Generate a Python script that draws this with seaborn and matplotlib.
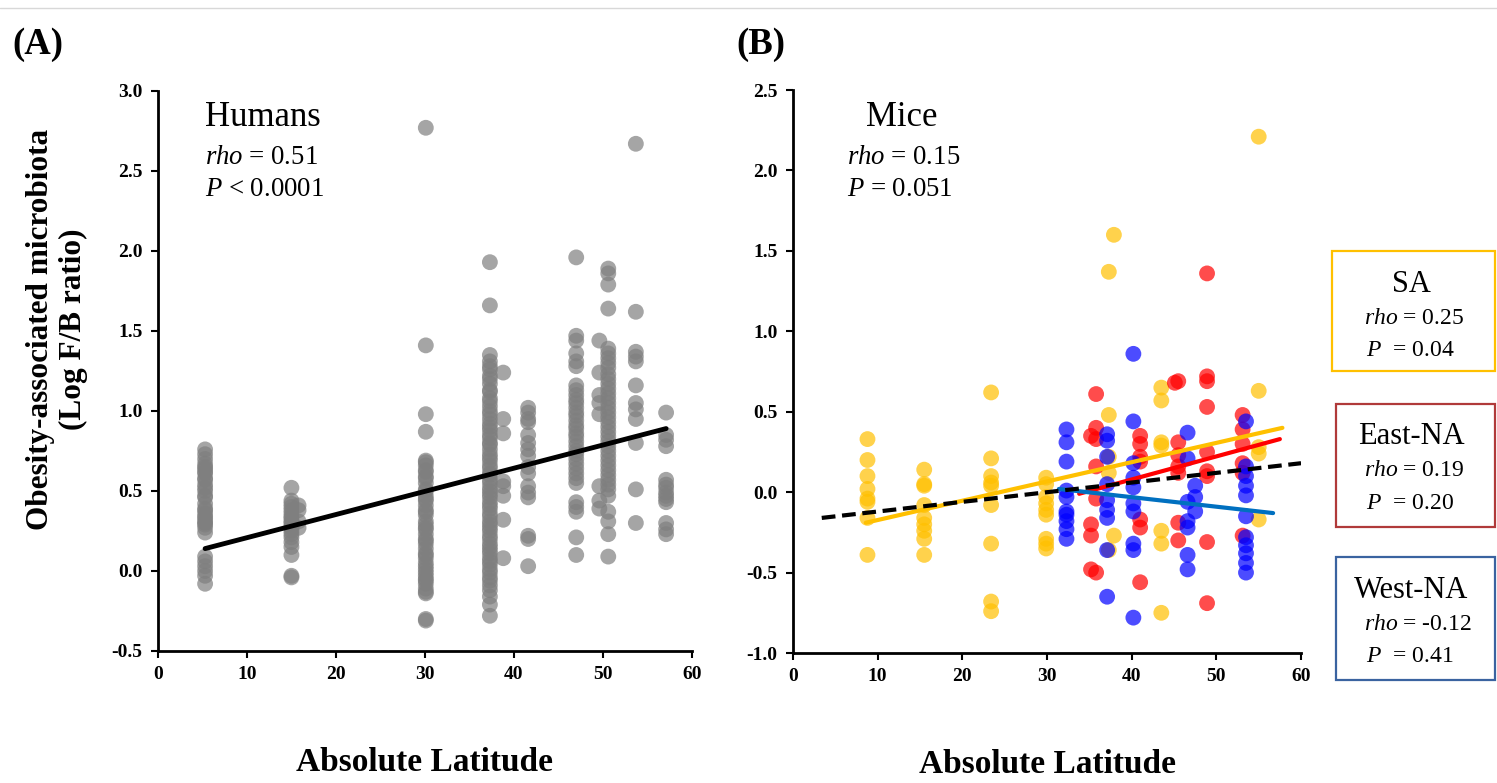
import matplotlib.pyplot as plt
import seaborn as sns
import pandas as pd
from matplotlib.patches import Rectangle
from matplotlib.lines import Line2D

# ---------------- (A) humans: log F/B ratio by absolute latitude ----------------
hum_lat = [5.3, 15.0, 15.8, 30.1, 37.3, 38.8, 41.6, 47.0, 49.6, 50.6, 53.7, 57.1]
hum_05 = [0.76, 0.73, 0.70, 0.67, 0.65, 0.64, 0.62, 0.61, 0.58, 0.57, 0.54, 0.52, 0.50, 0.47,
          0.46, 0.42, 0.39, 0.38, 0.36, 0.34, 0.33, 0.31, 0.30, 0.29, 0.27, 0.24,
          0.09, 0.06, 0.03, 0.00, -0.03, -0.08]
hum_15 = [0.52, 0.44, 0.42, 0.40, 0.38, 0.36, 0.34, 0.33, 0.31, 0.30, 0.28, 0.27, 0.25,
          0.23, 0.21, 0.18, 0.15, 0.10, -0.03, -0.04]
hum_16 = [0.41, 0.38, 0.31, 0.27]
hum_30 = [2.77, 1.41, 0.98, 0.87, 0.69, 0.68, 0.66, 0.63, 0.62, 0.59, 0.58, 0.55, 0.51, 0.50,
          0.47, 0.45, 0.44, 0.41, 0.38, 0.37, 0.35, 0.31, 0.29, 0.27, 0.26, 0.23, 0.20, 0.19,
          0.17, 0.14, 0.11, 0.10, 0.08, 0.05, 0.03, 0.01, -0.01, -0.03, -0.05, -0.06, -0.08,
          -0.11, -0.13, -0.14, -0.30, -0.31]
hum_37 = [1.93, 1.66, 1.35, 1.31, 1.28, 1.26, 1.22, 1.20, 1.17, 1.13, 1.12, 1.08, 1.06, 1.03,
          1.00, 0.98, 0.95, 0.92, 0.90, 0.88, 0.85, 0.83, 0.80, 0.79, 0.76, 0.73, 0.71, 0.69,
          0.66, 0.64, 0.61, 0.60, 0.57, 0.55, 0.52, 0.50, 0.48, 0.46, 0.43, 0.41, 0.39, 0.36,
          0.34, 0.31, 0.29, 0.27, 0.25, 0.22, 0.20, 0.17, 0.15, 0.13, 0.11, 0.08, 0.06, 0.04,
          0.01, -0.01, -0.04, -0.06, -0.09, -0.12, -0.16, -0.21, -0.28]
hum_39 = [1.24, 0.95, 0.86, 0.56, 0.53, 0.47, 0.32, 0.08]
hum_42 = [1.02, 0.99, 0.95, 0.93, 0.85, 0.80, 0.76, 0.72, 0.65, 0.61, 0.53, 0.49, 0.46,
          0.22, 0.20, 0.03]
hum_47 = [1.96, 1.47, 1.44, 1.36, 1.31, 1.28, 1.16, 1.13, 1.10, 1.07, 1.05, 1.02, 0.99, 0.97,
          0.94, 0.91, 0.89, 0.86, 0.84, 0.81, 0.78, 0.75, 0.73, 0.70, 0.67, 0.64, 0.61, 0.58,
          0.55, 0.43, 0.40, 0.37, 0.21, 0.10]
hum_49 = [1.44, 1.24, 1.10, 1.05, 0.98, 0.53, 0.44, 0.39]
hum_51 = [1.89, 1.86, 1.79, 1.64, 1.39, 1.36, 1.33, 1.30, 1.27, 1.23, 1.20, 1.17, 1.14, 1.11,
          1.08, 1.05, 1.02, 0.99, 0.96, 0.93, 0.90, 0.87, 0.84, 0.81, 0.78, 0.75, 0.72, 0.69,
          0.66, 0.63, 0.60, 0.57, 0.54, 0.51, 0.47, 0.37, 0.31, 0.23, 0.09]
hum_54 = [2.67, 1.62, 1.37, 1.34, 1.31, 1.16, 1.05, 1.01, 0.95, 0.80, 0.51, 0.30]
hum_57 = [0.99, 0.85, 0.82, 0.78, 0.57, 0.54, 0.52, 0.49, 0.47, 0.45, 0.43, 0.30, 0.26, 0.23]
hum_vals = [hum_05, hum_15, hum_16, hum_30, hum_37, hum_39, hum_42, hum_47, hum_49,
            hum_51, hum_54, hum_57]

hum_fit_x = [5.3, 57.1]
hum_fit_y = [0.14, 0.89]

# ---------------- (B) mice by region ----------------
sa_lat = [8.8, 15.5, 23.4, 29.9, 37.3, 37.9, 43.5, 55.0]
sa_vals = [[0.33, 0.20, 0.10, 0.02, -0.04, -0.06, -0.16, -0.39],
           [0.14, 0.05, 0.04, -0.08, -0.16, -0.20, -0.24, -0.29, -0.39],
           [0.62, 0.21, 0.10, 0.06, 0.04, -0.08, -0.32, -0.68, -0.74],
           [0.09, 0.05, -0.03, -0.07, -0.11, -0.14, -0.29, -0.32, -0.35],
           [1.37, 0.48, 0.22, 0.12, -0.36],
           [1.60, -0.27],
           [0.65, 0.57, 0.31, 0.29, -0.24, -0.32, -0.75],
           [2.21, 0.63, 0.28, 0.24, -0.17]]

east_lat = [35.2, 35.8, 41.0, 45.1, 45.5, 48.9, 53.1]
east_vals = [[0.35, -0.20, -0.27, -0.48],
             [0.61, 0.40, 0.33, 0.16, -0.04, -0.50],
             [0.35, 0.30, 0.22, 0.19, -0.17, -0.22, -0.56],
             [0.68],
             [0.69, 0.31, 0.23, 0.16, 0.12, -0.19, -0.30],
             [1.36, 0.72, 0.69, 0.53, 0.25, 0.13, 0.10, -0.31, -0.69],
             [0.48, 0.39, 0.30, 0.18, 0.12, -0.27]]

west_lat = [32.3, 37.1, 40.2, 46.6, 47.5, 53.5]
west_vals = [[0.39, 0.31, 0.19, 0.01, -0.03, -0.12, -0.14, -0.18, -0.23, -0.29],
             [0.36, 0.32, 0.22, 0.05, -0.05, -0.11, -0.16, -0.36, -0.65],
             [0.86, 0.44, 0.18, 0.09, 0.03, -0.07, -0.12, -0.32, -0.36, -0.78],
             [0.37, 0.21, -0.06, -0.18, -0.22, -0.39, -0.48],
             [0.04, -0.03, -0.12],
             [0.44, 0.16, 0.10, 0.04, -0.02, -0.15, -0.28, -0.33, -0.38, -0.44, -0.50]]

all_fit_x = [3.4, 60.0]
all_fit_y = [-0.16, 0.18]
sa_fit_x = [8.6, 57.8]
sa_fit_y = [-0.19, 0.40]
east_fit_x = [33.8, 57.5]
east_fit_y = [-0.01, 0.33]
west_fit_x = [31.4, 56.7]
west_fit_y = [0.02, -0.13]


def long_table(lats, vals):
    rows = [(la, v) for la, vs in zip(lats, vals) for v in vs]
    return pd.DataFrame(rows, columns=['lat', 'val'])


sns.set_style('white')
plt.rcParams['font.family'] = ['Liberation Serif', 'DejaVu Serif']
plt.rcParams['mathtext.fontset'] = 'custom'
plt.rcParams['mathtext.rm'] = 'Liberation Serif'
plt.rcParams['mathtext.it'] = 'Liberation Serif:italic'
for key in ['text.color', 'axes.labelcolor', 'xtick.color', 'ytick.color']:
    plt.rcParams[key] = 'black'

fig = plt.figure(figsize=(14.97, 7.83), dpi=100)
axA = fig.add_axes([0.1055, 0.1686, 0.3567, 0.7152])
axB = fig.add_axes([0.5297, 0.166, 0.3394, 0.719])

dot = dict(s=130, alpha=0.7, edgecolor='none', legend=False)

sns.scatterplot(data=long_table(hum_lat, hum_vals), x='lat', y='val', color='#7f7f7f',
                ax=axA, **dot)
sns.lineplot(x=hum_fit_x, y=hum_fit_y, color='black', lw=3.5, ax=axA)

sns.scatterplot(data=long_table(sa_lat, sa_vals), x='lat', y='val', color='#FFC000',
                ax=axB, **dot)
sns.scatterplot(data=long_table(east_lat, east_vals), x='lat', y='val', color='#FF0000',
                ax=axB, **dot)
sns.scatterplot(data=long_table(west_lat, west_vals), x='lat', y='val', color='#0000FF',
                ax=axB, **dot)
sns.lineplot(x=sa_fit_x, y=sa_fit_y, color='#FFC000', lw=3, ax=axB)
sns.lineplot(x=east_fit_x, y=east_fit_y, color='#FF0000', lw=3, ax=axB)
sns.lineplot(x=west_fit_x, y=west_fit_y, color='#0070C0', lw=3, ax=axB)
sns.lineplot(x=all_fit_x, y=all_fit_y, color='black', lw=3, linestyle=(0, (3.3, 1.6)), ax=axB)

for ax, ylo, yhi in [(axA, -0.5, 3.0), (axB, -1.0, 2.5)]:
    ax.set_xlim(0, 60)
    ax.set_ylim(ylo, yhi)
    ax.set_xticks(range(0, 61, 10))
    yt = [ylo + 0.5 * i for i in range(int(round((yhi - ylo) / 0.5)) + 1)]
    ax.set_yticks(yt)
    ax.set_yticklabels([f'{v:.1f}' for v in yt])
    sns.despine(ax=ax)
    for sp in ['left', 'bottom']:
        ax.spines[sp].set_linewidth(2)
        ax.spines[sp].set_color('black')
    ax.tick_params(direction='out', length=5, width=1.5, labelsize=14, pad=6,
                   left=True, bottom=True)
    for lab in ax.get_xticklabels() + ax.get_yticklabels():
        lab.set_fontweight('bold')
    ax.set_xlabel('Absolute Latitude', fontsize=24, fontweight='bold', labelpad=46)
    ax.set_ylabel('')

fig.text(0.038, 0.579, 'Obesity-associated microbiota\n(Log F/B ratio)', rotation=90,
         ha='center', va='center', fontsize=22.5, fontweight='bold', linespacing=1.2,
         multialignment='center')

fig.text(0.008, 0.943, '(A)', fontsize=26.5, fontweight='bold', va='center')
fig.text(0.492, 0.943, '(B)', fontsize=26.5, fontweight='bold', va='center')

fig.text(205 / 1497, 1 - 117 / 783, 'Humans', fontsize=25, va='center')
fig.text(205 / 1497, 1 - 158 / 783, '$rho$ = 0.51', fontsize=19.3, va='center')
fig.text(205 / 1497, 1 - 189 / 783, '$P$ < 0.0001', fontsize=19.3, va='center')

fig.text(902 / 1497, 1 - 117 / 783, 'Mice', fontsize=25, va='center', ha='center')
fig.text(847 / 1497, 1 - 158 / 783, '$rho$ = 0.15', fontsize=19.3, va='center')
fig.text(847 / 1497, 1 - 189 / 783, '$P$ = 0.051', fontsize=19.3, va='center')

boxes = [
    (1332, 251, 371, '#FFC000', 'SA', '$rho$ = 0.25', '$P$  = 0.04'),
    (1336, 404, 527, '#B03A3A', 'East-NA', '$rho$ = 0.19', '$P$  = 0.20'),
    (1336, 557, 680, '#3A63A0', 'West-NA', '$rho$ = -0.12', '$P$  = 0.41'),
]
for x0, ytop, ybot, col, name, rho, pval in boxes:
    fig.add_artist(Rectangle((x0 / 1497, 1 - ybot / 783), (1495 - x0) / 1497,
                             (ybot - ytop) / 783, transform=fig.transFigure,
                             fill=False, edgecolor=col, lw=1.6))
    fig.text(1411 / 1497, 1 - (ytop + 33) / 783, name, fontsize=22, ha='center', va='center')
    fig.text(1364 / 1497, 1 - (ytop + 67) / 783, rho, fontsize=17, va='center')
    fig.text(1366 / 1497, 1 - (ytop + 99) / 783, pval, fontsize=17, va='center')

fig.add_artist(Line2D([0, 1], [1 - 8 / 783, 1 - 8 / 783], transform=fig.transFigure,
                      color='#d8d8d8', lw=1))

fig.savefig('out.png', dpi=100)
